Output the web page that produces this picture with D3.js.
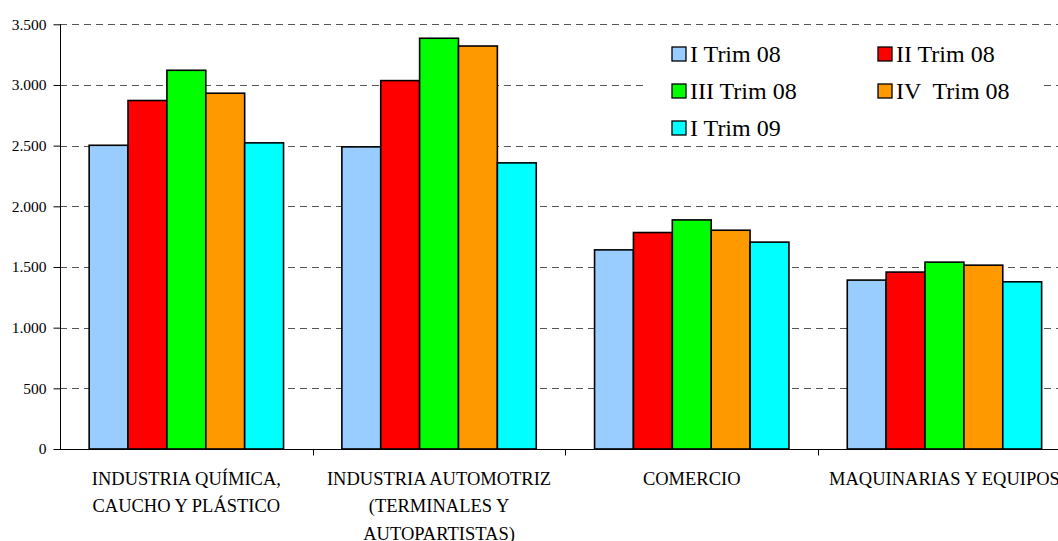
<!DOCTYPE html>
<html>
<head>
<meta charset="utf-8">
<script src="https://cdn.jsdelivr.net/npm/d3@7"></script>
<style>
  html, body { margin: 0; padding: 0; background: #fff; }
  svg { display: block; }
  svg text { font-family: "Liberation Serif", "Times New Roman", serif; }
</style>
</head>
<body>
<svg id="chart" width="1058" height="541"></svg>
<script>
// Sector categories (each line of the axis label as a separate entry)
const categories = ["quimica", "automotriz", "comercio", "maquinarias"];
const categoryLabels = [
  ["INDUSTRIA QUÍMICA,", "CAUCHO Y PLÁSTICO"],
  ["INDUSTRIA AUTOMOTRIZ", "(TERMINALES Y", "AUTOPARTISTAS)"],
  ["COMERCIO"],
  ["MAQUINARIAS Y EQUIPOS"]
];

// Quarterly series
const seriesNames = ["I Trim 08", "II Trim 08", "III Trim 08", "IV  Trim 08", "I Trim 09"];
const seriesColors = ["#99CCFF", "#FF0000", "#00FF00", "#FF9900", "#00FFFF"];

const trim1_08 = [2503, 2490, 1641, 1392];
const trim2_08 = [2872, 3036, 1784, 1458];
const trim3_08 = [3121, 3385, 1888, 1540];
const trim4_08 = [2932, 3321, 1803, 1515];
const trim1_09 = [2523, 2358, 1705, 1378];
const seriesValues = [trim1_08, trim2_08, trim3_08, trim4_08, trim1_09];

const yTicks = [0, 500, 1000, 1500, 2000, 2500, 3000, 3500];

const SERIF = "'Liberation Serif', 'Times New Roman', serif";
const svg = d3.select("#chart");
const plotLeft = 60, plotRight = 1070.8, plotTop = 24.3, plotBottom = 449;

const x = d3.scaleBand().domain(categories).range([plotLeft, plotRight]).padding(0);
const xs = d3.scaleBand().domain(d3.range(seriesNames.length))
  .range([0, x.bandwidth()]).paddingInner(0).paddingOuter(0.75);
const y = d3.scaleLinear().domain([0, 3500]).range([plotBottom, plotTop]);

const locale = d3.formatLocale({ decimal: ",", thousands: ".", grouping: [3], currency: ["$", ""] });
const fmt = locale.format(",d");

// Dashed horizontal gridlines
svg.append("g")
  .selectAll("line")
  .data(yTicks.filter(d => d > 0))
  .join("line")
  .attr("x1", plotLeft).attr("x2", plotRight)
  .attr("y1", d => Math.round(y(d)) + 0.5).attr("y2", d => Math.round(y(d)) + 0.5)
  .attr("stroke", "#555")
  .attr("stroke-width", 1)
  .attr("stroke-dasharray", "7,5");

// Bars
const groups = svg.append("g")
  .selectAll("g")
  .data(categories)
  .join("g")
  .attr("transform", d => `translate(${x(d)},0)`);

groups.selectAll("rect")
  .data((d, ci) => seriesValues.map((vals, si) => ({ si, v: vals[ci] })))
  .join("rect")
  .attr("x", d => xs(d.si))
  .attr("width", xs.bandwidth())
  .attr("y", d => y(d.v))
  .attr("height", d => plotBottom - y(d.v))
  .attr("fill", d => seriesColors[d.si])
  .attr("stroke", "#000")
  .attr("stroke-width", 1.6);

// Legend (white box covering the gridlines)
const legend = svg.append("g");
legend.append("rect")
  .attr("x", 645).attr("y", 31).attr("width", 395).attr("height", 112)
  .attr("fill", "#fff");
const legPos = [
  [672, 54], [878, 54],
  [672, 91], [878, 91],
  [672, 128]
];
seriesNames.forEach((name, i) => {
  const [lx, ly] = legPos[i];
  legend.append("rect")
    .attr("x", lx).attr("y", ly - 7).attr("width", 14).attr("height", 14)
    .attr("fill", seriesColors[i]).attr("stroke", "#000").attr("stroke-width", 1.3);
  legend.append("text")
    .attr("x", lx + 18).attr("y", ly + 8)
    .attr("font-family", SERIF)
    .attr("font-size", 24)
    .attr("fill", "#000")
    .style("white-space", "pre")
    .text(name);
});

// Y axis
const yAxis = svg.append("g")
  .attr("transform", `translate(${plotLeft + 0.5},0)`)
  .call(d3.axisLeft(y).tickValues(yTicks).tickFormat(fmt).tickSize(7).tickPadding(7));
yAxis.attr("font-family", SERIF);
yAxis.select(".domain").attr("stroke", "#000").attr("d", `M0,${plotTop}V${plotBottom}`);
yAxis.selectAll(".tick line").attr("stroke", "#000");
yAxis.selectAll(".tick text")
  .attr("font-family", SERIF)
  .attr("font-size", 15.5).attr("fill", "#000");

// X axis
const xAxisG = svg.append("g").attr("transform", `translate(0,${plotBottom + 0.5})`);
xAxisG.append("line")
  .attr("x1", plotLeft).attr("x2", plotRight).attr("y1", 0).attr("y2", 0)
  .attr("stroke", "#000");
xAxisG.selectAll("line.tk")
  .data(categories.slice(1))
  .join("line")
  .attr("class", "tk")
  .attr("x1", d => Math.round(x(d)) + 0.5).attr("x2", d => Math.round(x(d)) + 0.5)
  .attr("y1", 0).attr("y2", 6)
  .attr("stroke", "#000");

// Category labels
categories.forEach((c, i) => {
  const t = svg.append("text")
    .attr("text-anchor", "middle")
    .attr("font-family", SERIF)
    .attr("font-size", 18.5)
    .attr("fill", "#000");
  categoryLabels[i].forEach((line, li) => {
    t.append("tspan")
      .attr("x", x(c) + x.bandwidth() / 2)
      .attr("y", 485 + li * 27.3)
      .text(line);
  });
});
</script>
</body>
</html>
